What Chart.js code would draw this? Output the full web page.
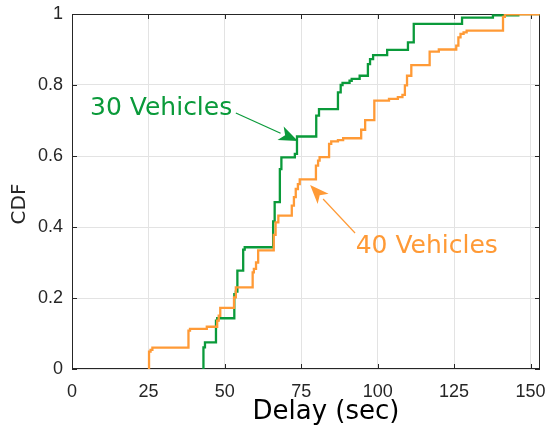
<!DOCTYPE html>
<html>
<head>
<meta charset="utf-8">
<script src="https://cdn.jsdelivr.net/npm/chart.js@4/dist/chart.umd.min.js"></script>
<style>
  html, body { margin: 0; padding: 0; background: #fff; }
  #wrap { width: 548px; height: 430px; }
</style>
</head>
<body>
<div id="wrap"><canvas id="cdf"></canvas></div>
<script>
// step CDF: value jumps to y at delay x
const veh30X = [43.0, 43.0, 43.5, 47.1, 47.5, 53.1, 53.6, 54.1, 56.0, 56.5, 65.8, 66.3, 68.0, 68.5, 72.9, 73.6, 79.9, 80.8, 87.0, 87.9, 88.5, 90.8, 91.5, 94.1, 96.8, 97.5, 98.5, 103.1, 109.9, 111.8, 127.6, 137.7, 146.0, 153];
const veh30Y = [0, 0.061, 0.075, 0.136, 0.143, 0.211, 0.218, 0.277, 0.336, 0.343, 0.416, 0.470, 0.563, 0.596, 0.606, 0.655, 0.714, 0.732, 0.779, 0.800, 0.806, 0.812, 0.817, 0.826, 0.859, 0.873, 0.884, 0.899, 0.920, 0.972, 0.990, 0.996, 1.0, 1.0];

const veh40X = [25.2, 25.2, 25.7, 26.3, 38.1, 38.6, 44.1, 47.5, 48.0, 48.5, 53.0, 53.6, 59.1, 59.5, 60.2, 60.9, 66.0, 66.6, 67.5, 71.9, 72.6, 73.2, 73.9, 74.5, 79.8, 80.5, 81.0, 84.1, 84.8, 87.0, 88.7, 94.6, 95.9, 98.9, 103.7, 106.6, 108.1, 108.9, 109.6, 111.0, 117.0, 120.0, 125.7, 126.4, 127.1, 128.1, 129.1, 141.0, 141.6, 153];
const veh40Y = [0, 0.049, 0.054, 0.060, 0.108, 0.113, 0.119, 0.136, 0.150, 0.172, 0.202, 0.230, 0.272, 0.282, 0.300, 0.334, 0.378, 0.413, 0.432, 0.460, 0.484, 0.507, 0.521, 0.534, 0.573, 0.587, 0.597, 0.634, 0.641, 0.645, 0.650, 0.674, 0.701, 0.756, 0.761, 0.766, 0.772, 0.799, 0.826, 0.856, 0.894, 0.900, 0.911, 0.934, 0.944, 0.948, 0.953, 0.992, 0.999, 0.999];

const xTicks = [0, 25, 50, 75, 100, 125, 150];
const yTicks = [0, 0.2, 0.4, 0.6, 0.8, 1];
const yTickLabels = ['0', '0.2', '0.4', '0.6', '0.8', '1'];

const green = '#0a9a3a';
const orange = '#ff9a36';
const axisColor = '#262626';

const toPoints = (xs, ys) => xs.map((x, i) => ({ x: x, y: ys[i] }));

// MATLAB-like box with inward ticks, drawn under the curves
const axesBox = {
  id: 'axesBox',
  beforeDatasetsDraw(chart) {
    const { ctx, chartArea: a, scales: { x, y } } = chart;
    ctx.save();
    ctx.strokeStyle = axisColor;
    ctx.lineWidth = 1;
    ctx.strokeRect(a.left + 0.5, a.top + 0.5, a.right - a.left - 1, a.bottom - a.top - 1);
    ctx.beginPath();
    xTicks.forEach(v => {
      const px = Math.round(x.getPixelForValue(v)) + 0.5;
      ctx.moveTo(px, a.bottom); ctx.lineTo(px, a.bottom - 5);
      ctx.moveTo(px, a.top); ctx.lineTo(px, a.top + 5);
    });
    yTicks.forEach(v => {
      const py = Math.round(y.getPixelForValue(v)) + 0.5;
      ctx.moveTo(a.left, py); ctx.lineTo(a.left + 5, py);
      ctx.moveTo(a.right, py); ctx.lineTo(a.right - 5, py);
    });
    ctx.stroke();
    ctx.restore();
  }
};

// axis titles and the two labelled arrows
const notes = {
  id: 'notes',
  afterDatasetsDraw(chart) {
    const { ctx, scales: { x, y } } = chart;
    ctx.save();
    ctx.textAlign = 'center';
    ctx.textBaseline = 'middle';
    ctx.fillStyle = '#000';
    ctx.font = '26px "DejaVu Sans"';
    ctx.fillText('Delay (sec)', 326, 412);
    ctx.fillStyle = axisColor;
    ctx.font = '20px "DejaVu Sans"';
    ctx.translate(20, 204);
    ctx.rotate(-Math.PI / 2);
    ctx.fillText('CDF', 0, 0);
    ctx.restore();

    ctx.save();
    const arrow = (fx, fy, tx, ty, color) => {
      const x0 = x.getPixelForValue(fx), y0 = y.getPixelForValue(fy);
      const x1 = x.getPixelForValue(tx), y1 = y.getPixelForValue(ty);
      const ang = Math.atan2(y1 - y0, x1 - x0);
      const len = 19, half = 7.5;
      const bx = x1 - len * Math.cos(ang), by = y1 - len * Math.sin(ang);
      ctx.strokeStyle = color;
      ctx.fillStyle = color;
      ctx.lineWidth = 1.2;
      ctx.beginPath();
      ctx.moveTo(x0, y0);
      ctx.lineTo(bx, by);
      ctx.stroke();
      ctx.beginPath();
      ctx.moveTo(x1, y1);
      ctx.lineTo(bx + half * Math.sin(ang), by - half * Math.cos(ang));
      ctx.lineTo(bx + 5 * Math.cos(ang), by + 5 * Math.sin(ang));
      ctx.lineTo(bx - half * Math.sin(ang), by + half * Math.cos(ang));
      ctx.closePath();
      ctx.fill();
    };
    const note = (text, vx, vy, color) => {
      ctx.fillStyle = color;
      ctx.font = '25px "DejaVu Sans"';
      ctx.textAlign = 'left';
      ctx.textBaseline = 'alphabetic';
      ctx.fillText(text, x.getPixelForValue(vx), y.getPixelForValue(vy));
    };
    note('30 Vehicles', 5.9, 0.715, green);
    arrow(53.6, 0.721, 73.9, 0.642, green);
    note('40 Vehicles', 92.8, 0.327, orange);
    arrow(92.6, 0.383, 77.9, 0.518, orange);
    ctx.restore();
  }
};

const noPad = s => { s.paddingLeft = 0; s.paddingRight = 0; s.paddingTop = 0; s.paddingBottom = 0; };

new Chart(document.getElementById('cdf'), {
  type: 'line',
  data: {
    datasets: [
      {
        label: '40 Vehicles',
        data: toPoints(veh40X, veh40Y),
        borderColor: orange,
        borderWidth: 2.3,
        stepped: 'before',
        pointRadius: 0,
        fill: false
      },
      {
        label: '30 Vehicles',
        data: toPoints(veh30X, veh30Y),
        borderColor: green,
        borderWidth: 2.3,
        stepped: 'before',
        pointRadius: 0,
        fill: false
      }
    ]
  },
  options: {
    responsive: true,
    maintainAspectRatio: false,
    animation: false,
    layout: { padding: { top: 14, right: 8, left: 0, bottom: 0 } },
    plugins: {
      legend: { display: false },
      tooltip: { enabled: false }
    },
    scales: {
      x: {
        type: 'linear',
        min: 0,
        max: 153.1,
        afterBuildTicks: s => { s.ticks = xTicks.map(v => ({ value: v })); },
        afterFit: s => { s.height = 61; noPad(s); },
        border: { display: false },
        grid: { color: '#e3e3e3', drawTicks: false },
        ticks: {
          padding: 12,
          maxRotation: 0,
          color: axisColor,
          font: { family: 'Liberation Sans', size: 18 }
        }
      },
      y: {
        type: 'linear',
        min: 0,
        max: 1,
        afterBuildTicks: s => { s.ticks = yTicks.map(v => ({ value: v })); },
        afterFit: s => { s.width = 72; noPad(s); },
        border: { display: false },
        grid: { color: '#e3e3e3', drawTicks: false },
        ticks: {
          padding: 9,
          color: axisColor,
          font: { family: 'Liberation Sans', size: 18 },
          callback: (v, i) => yTickLabels[i]
        }
      }
    }
  },
  plugins: [axesBox, notes]
});
</script>
</body>
</html>
